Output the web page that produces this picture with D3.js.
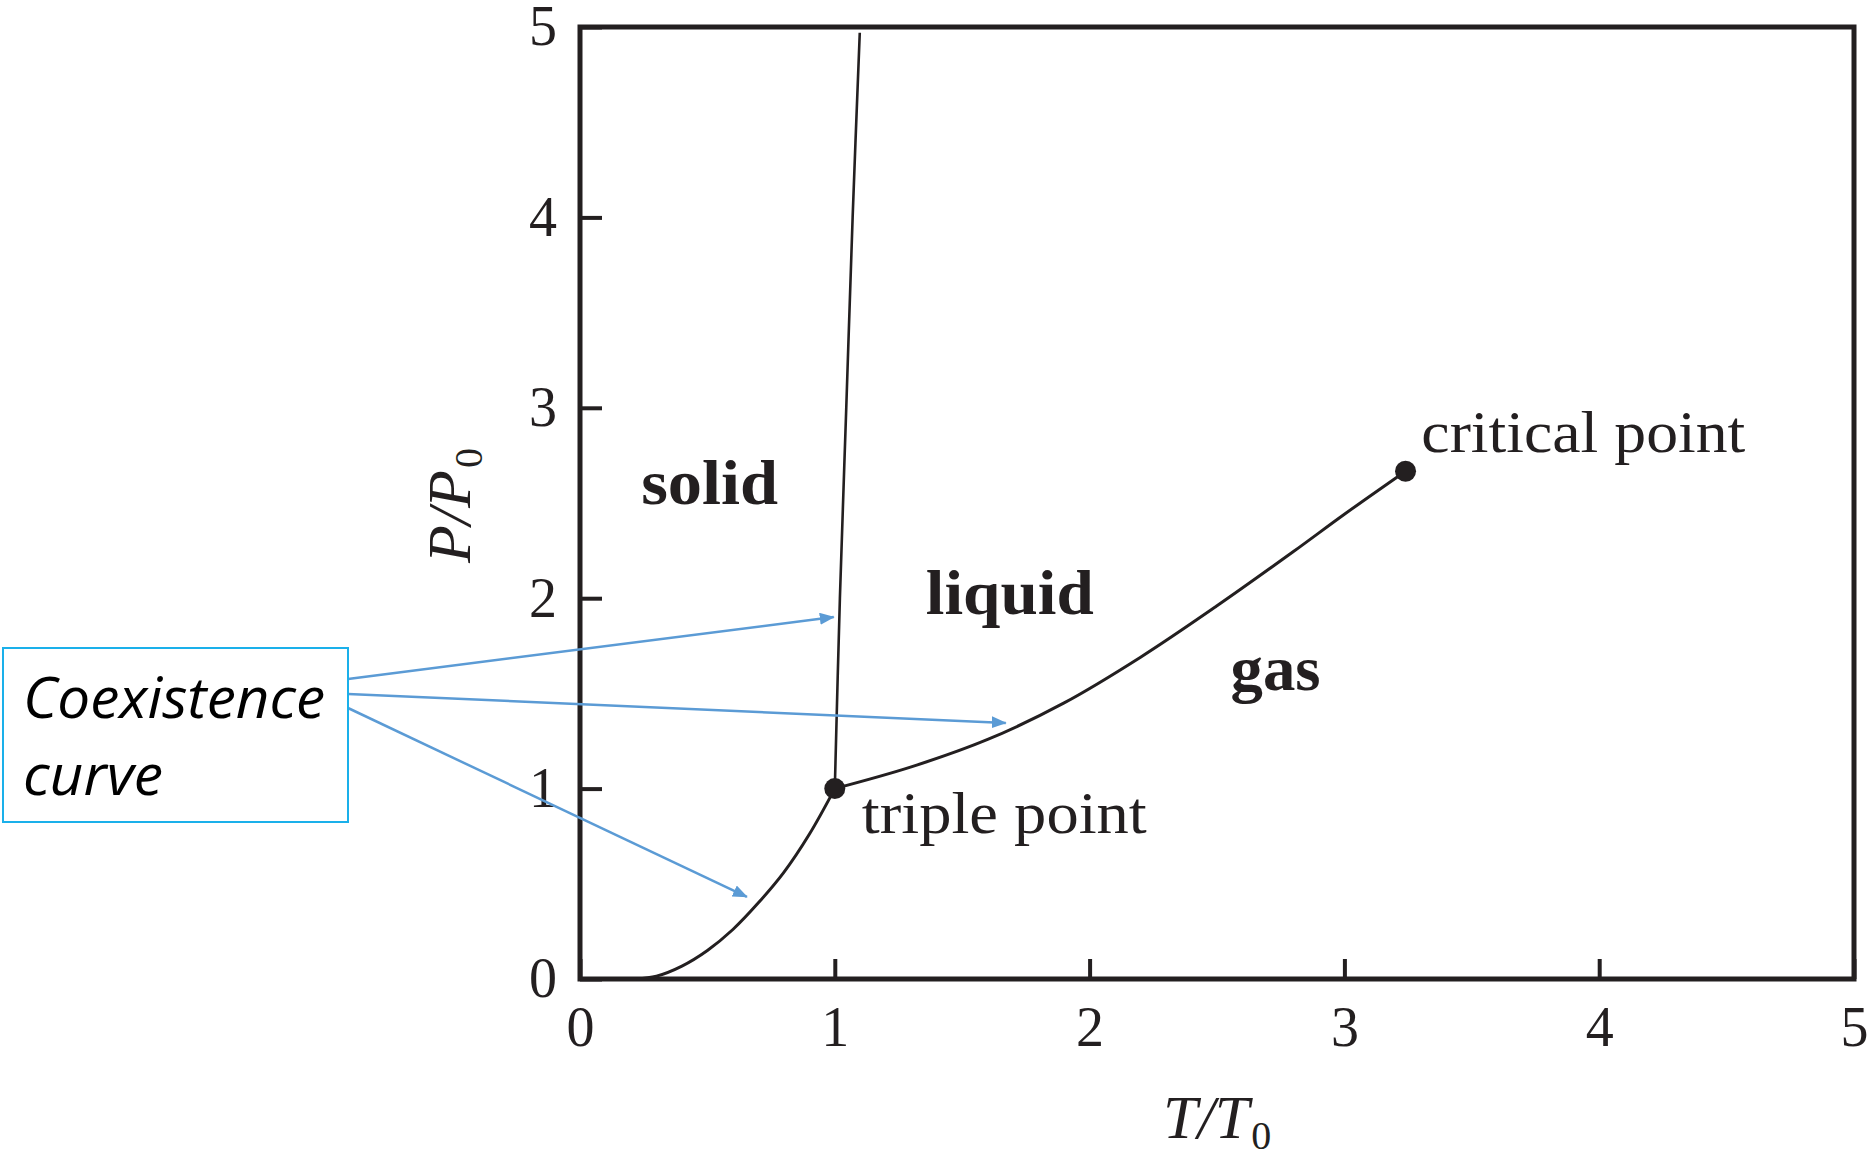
<!DOCTYPE html>
<meta charset="utf-8">
<script src="https://d3js.org/d3.v7.min.js"></script>
<style>
  body { margin: 0; background: #fff; }
</style>
<div id="chart"></div>
<script>

// tick values on both axes
const xTicks = [0, 1, 2, 3, 4, 5];
const yTicks = [0, 1, 2, 3, 4, 5];

// coexistence curves as [T/T0, P/P0]
const sublimation = [[0.22, 0], [0.3, 0.015], [0.4, 0.068], [0.5, 0.15], [0.6, 0.26],
                     [0.7, 0.40], [0.8, 0.56], [0.9, 0.76], [1, 1]];
const melting = [[1, 1], [1.02, 2], [1.045, 3], [1.07, 4], [1.098, 4.97]];
const vaporization = [[1, 1], [1.3, 1.114], [1.6, 1.258], [1.9, 1.45], [2.2, 1.69],
                      [2.5, 1.96], [2.8, 2.245], [3.0, 2.441], [3.24, 2.667]];

// special points (triple, critical)
const points = [[1, 1], [3.24, 2.667]];

// region + point labels
const regions = [
  {text: "solid", t: 0.24, p: 2.495, len: 137},
  {text: "liquid", t: 1.357, p: 1.917, len: 168},
  {text: "gas", t: 2.553, p: 1.518, len: 90}
];
const pointLabels = [
  {text: "triple point", t: 1.106, p: 0.767, len: 285},
  {text: "critical point", t: 3.302, p: 2.768, len: 324}
];

// where the callout arrows end
const arrowTips = [[0.996, 1.901], [1.671, 1.345], [0.655, 0.431]];

const W = 1868, H = 1154;
const ink = "#231f20";

const svg = d3.select("#chart").append("svg")
    .attr("width", W)
    .attr("height", H);

const x = d3.scaleLinear().domain([0, 5]).range([580, 1854]);
const y = d3.scaleLinear().domain([0, 5]).range([979, 27]);

// axes, ticks point inward
svg.append("g")
    .attr("transform", `translate(0,${y(0)})`)
    .call(d3.axisBottom(x).tickValues(xTicks).tickSize(-20).tickSizeOuter(0).tickPadding(27).tickFormat(d3.format("d")))
    .call(g => g.select(".domain").remove())
    .call(g => g.selectAll("line").attr("stroke", ink).attr("stroke-width", 4))
    .call(g => g.selectAll("text").attr("fill", ink)
        .style("font-family", "'Liberation Serif', serif").style("font-size", "56px"));

svg.append("g")
    .attr("transform", `translate(${x(0)},0)`)
    .call(d3.axisLeft(y).tickValues(yTicks).tickSize(-22).tickSizeOuter(0).tickPadding(23).tickFormat(d3.format("d")))
    .call(g => g.select(".domain").remove())
    .call(g => g.selectAll("line").attr("stroke", ink).attr("stroke-width", 4))
    .call(g => g.selectAll("text").attr("fill", ink)
        .style("font-family", "'Liberation Serif', serif").style("font-size", "56px"));

// frame
svg.append("rect")
    .attr("x", x(0)).attr("y", y(5))
    .attr("width", x(5) - x(0)).attr("height", y(0) - y(5))
    .attr("fill", "none")
    .attr("stroke", ink)
    .attr("stroke-width", 5);

// curves
const line = d3.line()
    .x(d => x(d[0]))
    .y(d => y(d[1]))
    .curve(d3.curveCatmullRom);

svg.append("path").datum(sublimation)
    .attr("d", line).attr("fill", "none").attr("stroke", ink).attr("stroke-width", 3);
svg.append("path").datum(melting)
    .attr("d", line).attr("fill", "none").attr("stroke", ink).attr("stroke-width", 2.6);
svg.append("path").datum(vaporization)
    .attr("d", line).attr("fill", "none").attr("stroke", ink).attr("stroke-width", 3);

svg.selectAll(".pt")
  .data(points)
  .join("circle")
    .attr("class", "pt")
    .attr("cx", d => x(d[0]))
    .attr("cy", d => y(d[1]))
    .attr("r", 10.5)
    .attr("fill", ink);

// region labels
svg.selectAll(".region")
  .data(regions)
  .join("text")
    .attr("class", "region")
    .attr("x", d => x(d.t))
    .attr("y", d => y(d.p))
    .attr("fill", ink)
    .attr("textLength", d => d.len)
    .attr("lengthAdjust", "spacingAndGlyphs")
    .style("font-family", "'Liberation Serif', serif")
    .style("font-weight", "bold")
    .style("font-size", "64px")
    .text(d => d.text);

svg.selectAll(".plabel")
  .data(pointLabels)
  .join("text")
    .attr("class", "plabel")
    .attr("x", d => x(d.t))
    .attr("y", d => y(d.p))
    .attr("fill", ink)
    .attr("textLength", d => d.len)
    .attr("lengthAdjust", "spacingAndGlyphs")
    .style("font-family", "'Liberation Serif', serif")
    .style("font-size", "60px")
    .text(d => d.text);

// axis titles
const xt = svg.append("text")
    .attr("x", 1163).attr("y", 1138)
    .attr("fill", ink)
    .style("font-family", "'Liberation Serif', serif")
    .style("font-size", "62px");
xt.append("tspan").style("font-style", "italic").text("T/T");
xt.append("tspan").attr("dy", 11).attr("dx", 2).style("font-size", "40px").text("0");

const yt = svg.append("text")
    .attr("transform", "translate(470,563) rotate(-90)")
    .attr("fill", ink)
    .style("font-family", "'Liberation Serif', serif")
    .style("font-size", "62px");
yt.append("tspan").style("font-style", "italic").text("P/P");
yt.append("tspan").attr("dy", 12).attr("dx", 2).style("font-size", "40px").text("0");

// callout box
const blue = "#5b9bd5";
svg.append("defs").append("marker")
    .attr("id", "head")
    .attr("markerUnits", "userSpaceOnUse")
    .attr("viewBox", "0 0 15 12")
    .attr("markerWidth", 15).attr("markerHeight", 12)
    .attr("refX", 14).attr("refY", 6)
    .attr("orient", "auto")
  .append("path")
    .attr("d", "M0,0 L15,6 L0,12 Z")
    .attr("fill", blue);

const starts = [679, 694, 708];
svg.selectAll(".arrow")
  .data(arrowTips)
  .join("line")
    .attr("class", "arrow")
    .attr("x1", 348)
    .attr("y1", (d, i) => starts[i])
    .attr("x2", d => x(d[0]))
    .attr("y2", d => y(d[1]))
    .attr("stroke", blue)
    .attr("stroke-width", 2.5)
    .attr("marker-end", "url(#head)");

svg.append("rect")
    .attr("x", 3).attr("y", 648)
    .attr("width", 345).attr("height", 174)
    .attr("fill", "#fff")
    .attr("stroke", "#1ab0ea")
    .attr("stroke-width", 2);

svg.append("text")
    .attr("x", 23).attr("y", 718)
    .attr("textLength", 302)
    .attr("lengthAdjust", "spacingAndGlyphs")
    .style("font-family", "'Open Sans', sans-serif")
    .style("font-style", "italic")
    .style("font-size", "57px")
    .text("Coexistence");
svg.append("text")
    .attr("x", 23).attr("y", 795)
    .attr("textLength", 140)
    .attr("lengthAdjust", "spacingAndGlyphs")
    .style("font-family", "'Open Sans', sans-serif")
    .style("font-style", "italic")
    .style("font-size", "57px")
    .text("curve");

</script>
